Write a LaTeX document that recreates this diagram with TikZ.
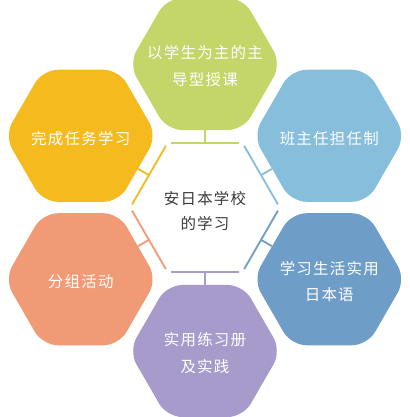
\documentclass[tikz,border=0pt]{standalone}
\usepackage{fontspec}
\newfontfamily\cjk[LetterSpace=8]{Noto Sans CJK SC}
\usetikzlibrary{shapes.geometric,positioning}
\definecolor{vert}{RGB}{196,213,106}
\definecolor{ciel}{RGB}{134,190,219}
\definecolor{jaune}{RGB}{245,186,30}
\definecolor{saumon}{RGB}{241,155,118}
\definecolor{acier}{RGB}{110,157,199}
\definecolor{mauve}{RGB}{166,155,202}
\definecolor{encre}{RGB}{58,58,58}
\tikzset{hexa/.style={regular polygon,regular polygon sides=6,minimum size=3.81cm,inner sep=0pt,rounded corners=0.38cm,fill=#1},legende/.style={text=white,align=center,inner sep=0pt,yshift=-0.06cm,font=\cjk\fontsize{11}{19}\selectfont},coeur/.style={regular polygon,regular polygon sides=6,minimum size=3.72cm,inner sep=0pt},bord/.style={draw=#1,line width=1.3pt,shorten >=0.09cm,shorten <=0.09cm},cran/.style={draw=#1,line width=1.3pt}}

\begin{document}
\begin{tikzpicture}[x=0.025cm,y=0.025cm]
\useasboundingbox (-205,-209.5) rectangle (205,207.5);
\node[coeur] (school) at (0,0) {};
\node[legende,text=encre,yshift=-0.02cm,font=\cjk\fontsize{11}{18}\selectfont] (schooltxt) at (school) {安日本学校\\的学习};
\node[hexa=vert] (lecture) at (90:143.5) {};
\node[hexa=ciel] (homeroom) at (30:143.5) {};
\node[hexa=acier] (language) at (-30:143.5) {};
\node[hexa=mauve] (workbook) at (-90:143.5) {};
\node[hexa=saumon] (groups) at (-150:143.5) {};
\node[hexa=jaune] (tasks) at (150:143.5) {};
\node[legende] (lecturetxt) at (lecture) {以学生为主的主\\导型授课};
\node[legende] (homeroomtxt) at (homeroom) {班主任担任制};
\node[legende] (languagetxt) at (language) {学习生活实用\\日本语};
\node[legende] (workbooktxt) at (workbook) {实用练习册\\及实践};
\node[legende] (groupstxt) at (groups) {分组活动};
\node[legende] (taskstxt) at (tasks) {完成任务学习};
% bords du coeur
\draw[bord=vert] (school.120)--(school.60);
\draw[bord=ciel] (school.60)--(school.0);
\draw[bord=acier] (school.0)--(school.-60);
\draw[bord=mauve] (school.-60)--(school.-120);
\draw[bord=saumon] (school.-120)--(school.180);
\draw[bord=jaune] (school.180)--(school.120);
% liaisons
\draw[cran=vert] (school.90)--(lecture.270);
\draw[cran=ciel] (school.30)--(homeroom.210);
\draw[cran=acier] (school.-30)--(language.150);
\draw[cran=mauve] (school.-90)--(workbook.90);
\draw[cran=saumon] (school.-150)--(groups.30);
\draw[cran=jaune] (school.150)--(tasks.-30);
\end{tikzpicture}
\end{document}
